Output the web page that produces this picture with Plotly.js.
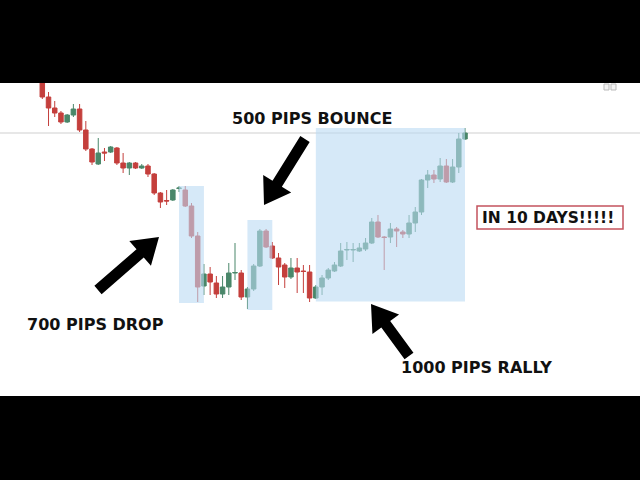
<!DOCTYPE html>
<html>
<head>
<meta charset="utf-8">
<script src="https://cdn.plot.ly/plotly-3.0.1.min.js"></script>
<style>html,body{margin:0;padding:0;background:#000;}#chart{width:640px;height:480px;}</style>
</head>
<body>
<div id="chart"></div>
<script>
// Daily candles (price level units)
const openVals  = [325,303,292,287,278,285,291,270,251,236,248,248,252,237,232,237,232,234,226,207,199.5,200,211.5,210,194,164,114,126,117,106,113,127,127,103,111,134,169,154,142,135,123,132,129,128,102,113,122,129,134,150,150,149,151,157,178,163,163,171,168,166,177,188,220,225,221,234,218,233,261];
const highVals  = [330,308,299,289,286,296,296,279,252,262,252,254,253,247,238,238,236,236,227,208,210,211,214,214,197,168,136,133,124,124,137,157,130,113,136,171,171,158,147,137,142,142,135,135,115,125,132,138,157,158,157,157,162,182,185,164,177,173,170,185,193,221,230,230,242,241,241,267,272];
const lowVals   = [301,274,283,276,277,283,268,249,235,235,239,247,235,227,225,231,231,223,205,192,195,199,208,193,162,98,105,105,102,102,105,120,100,91,109,133,152,141,115,112,121,107,107,98,101,105,120,128,133,140,138,148,149,156,162,130,157,153,162,162,168,185,212,217,218,217,217,227,260];
const closeVals = [303,292,287,278,285,291,270,251,238,247,247,253,237,232,237,232,234,226,207,198,199,210,212,194,164,113,126,118,106,113,127,127.5,103,111,134,169,153,142,133,123,132,128,128.5,102,113,122,130,135,149,150.5,150.5,152,157,178,163,162.5,171,169,166,177,188,220,225,221,234,218,233,261,267];
const dayIndex = openVals.map((_, i) => i);

// Highlighted moves: [startDay, endDay, low, high]
const dropZone   = [22, 26, 97, 214];
const bounceZone = [33, 37, 90, 180];
const rallyZone  = [44, 68, 98.5, 272];

const labels = ["500 PIPS BOUNCE", "700 PIPS DROP", "1000 PIPS RALLY", "IN 10 DAYS!!!!!"];

// ---- layout helpers (pixel -> paper) ----
const W = 640, T = 83, B = 396;
const px = x => x / W;
const py = y => (B - y) / (B - T);

function arrowPath(tx, ty, hx, hy) {
  const dx = hx - tx, dy = hy - ty, L = Math.hypot(dx, dy);
  const ux = dx / L, uy = dy / L, nx = -uy, ny = ux;
  const w = 5.5, hw = 16.5, hl = 25;
  const bx = hx - ux * hl, by = hy - uy * hl;
  const pts = [
    [tx + nx * w, ty + ny * w], [bx + nx * w, by + ny * w], [bx + nx * hw, by + ny * hw],
    [hx, hy], [bx - nx * hw, by - ny * hw], [bx - nx * w, by - ny * w], [tx - nx * w, ty - ny * w]
  ];
  return 'M' + pts.map(p => px(p[0]).toFixed(5) + ',' + py(p[1]).toFixed(5)).join(' L') + ' Z';
}

const zoneFill = 'rgba(187,218,243,0.6)';
function zone(z) {
  return {type: 'rect', xref: 'x', yref: 'y', x0: z[0], x1: z[1], y0: z[2], y1: z[3],
          fillcolor: zoneFill, line: {width: 0}, layer: 'above'};
}
function arrow(tx, ty, hx, hy) {
  return {type: 'path', xref: 'paper', yref: 'paper', path: arrowPath(tx, ty, hx, hy),
          fillcolor: '#000', line: {width: 0}, layer: 'above'};
}

const trace = {
  type: 'candlestick',
  x: dayIndex, open: openVals, high: highVals, low: lowVals, close: closeVals,
  increasing: {line: {color: '#4a876a', width: 1}, fillcolor: '#4a876a'},
  decreasing: {line: {color: '#c43f3c', width: 1}, fillcolor: '#c43f3c'},
  whiskerwidth: 0,
  hoverinfo: 'skip'
};

const lastClose = closeVals[closeVals.length - 1];
const font = {family: 'DejaVu Sans, Verdana, sans-serif', size: 16, color: '#111', weight: 'bold'};

const layout = {
  width: 640, height: 480,
  margin: {l: 0, r: 0, t: 83, b: 84, pad: 0},
  paper_bgcolor: '#000', plot_bgcolor: '#fff',
  showlegend: false,
  boxgap: 0.15, boxgroupgap: 0.15,
  xaxis: {visible: false, range: [-6.805, 96.15], rangeslider: {visible: false}, fixedrange: true},
  yaxis: {visible: false, range: [4, 317], fixedrange: true},
  shapes: [
    {type: 'line', xref: 'paper', yref: 'y', x0: 0, x1: 1, y0: lastClose, y1: lastClose,
     line: {color: '#cfcfcf', width: 1}, layer: 'below'},
    zone(dropZone), zone(bounceZone), zone(rallyZone),
    arrow(305, 139, 264, 205),
    arrow(98, 290, 159, 237),
    arrow(409, 356, 371, 304),
    {type: 'rect', xref: 'paper', yref: 'paper', x0: px(477), x1: px(623), y0: py(229), y1: py(206),
     line: {color: '#c4535d', width: 1.5}, fillcolor: 'rgba(0,0,0,0)', layer: 'above'},
    {type: 'rect', xref: 'paper', yref: 'paper', x0: px(604), x1: px(609), y0: py(90), y1: py(84),
     line: {color: '#bbb', width: 1}, fillcolor: '#f4f4f4'},
    {type: 'rect', xref: 'paper', yref: 'paper', x0: px(611), x1: px(616), y0: py(90), y1: py(84),
     line: {color: '#bbb', width: 1}, fillcolor: '#f4f4f4'}
  ],
  annotations: [
    {text: labels[0], xref: 'paper', yref: 'paper', x: px(311.5), y: py(118), xanchor: 'center', yanchor: 'middle', showarrow: false, font: font},
    {text: labels[1], xref: 'paper', yref: 'paper', x: px(95), y: py(324), xanchor: 'center', yanchor: 'middle', showarrow: false, font: font},
    {text: labels[2], xref: 'paper', yref: 'paper', x: px(476.5), y: py(367), xanchor: 'center', yanchor: 'middle', showarrow: false, font: font},
    {text: labels[3], xref: 'paper', yref: 'paper', x: px(548), y: py(217.5), xanchor: 'center', yanchor: 'middle', showarrow: false, font: Object.assign({}, font, {size: 15.5})}
  ]
};

Plotly.newPlot('chart', [trace], layout, {displayModeBar: false, staticPlot: true});
</script>
</body>
</html>
